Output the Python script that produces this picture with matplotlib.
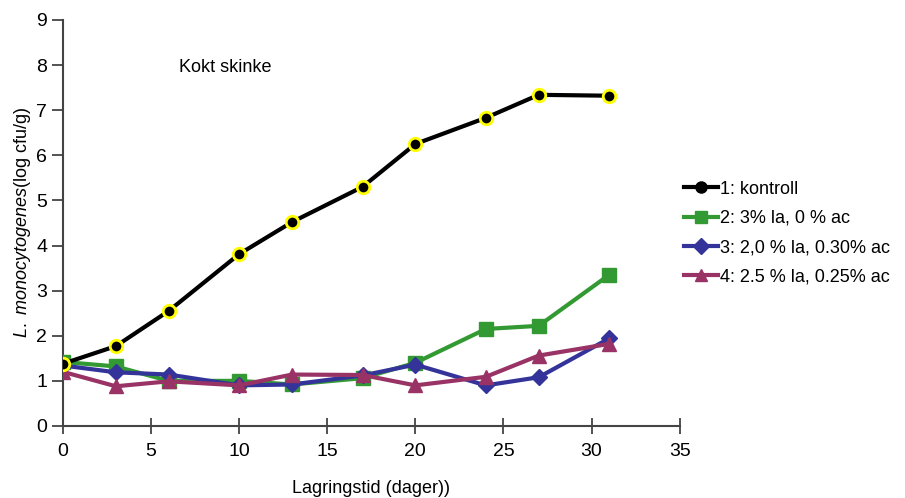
import matplotlib
matplotlib.use("Agg")
import matplotlib.pyplot as plt
from matplotlib.lines import Line2D

plt.rcParams['font.family'] = ['Liberation Sans', 'DejaVu Sans']
plt.rcParams['mathtext.fontset'] = 'custom'
plt.rcParams['mathtext.it'] = 'Liberation Sans:italic'
plt.rcParams['mathtext.rm'] = 'Liberation Sans'

days = [0, 3, 6, 10, 13, 17, 20, 24, 27, 31]
kontroll = [1.38, 1.77, 2.55, 3.81, 4.52, 5.30, 6.25, 6.83, 7.34, 7.32]
la3_ac0 = [1.42, 1.32, 1.00, 1.00, 0.92, 1.06, 1.40, 2.15, 2.22, 3.35]
la20_ac030 = [1.34, 1.19, 1.14, 0.90, 0.92, 1.12, 1.36, 0.90, 1.08, 1.94]
la25_ac025 = [1.20, 0.88, 0.99, 0.90, 1.14, 1.13, 0.90, 1.09, 1.56, 1.82]

labels = ["1: kontroll", "2: 3% la, 0 % ac", "3: 2,0 % la, 0.30% ac",
          "4: 2.5 % la, 0.25% ac"]
colors = ['black', '#339933', '#333399', '#993366']
markers = ['o', 's', 'D', '^']

fig = plt.figure(figsize=(9.05, 4.98), dpi=100)
ax = fig.add_axes([0.0696, 0.1446, 0.6814, 0.8154])

ax.plot(days, la3_ac0, color=colors[1], lw=3, marker='s', ms=10,
        mec=colors[1], zorder=3)
ax.plot(days, la20_ac030, color=colors[2], lw=3, marker='D', ms=8,
        mec=colors[2], zorder=4)
ax.plot(days, la25_ac025, color=colors[3], lw=3, marker='^', ms=10,
        mec=colors[3], zorder=5)
ax.plot(days, kontroll, color='black', lw=3, marker='o', ms=9,
        mfc='black', mec='#ffff00', mew=2, zorder=6)

ax.set_xlim(0, 35)
ax.set_ylim(0, 9)
ax.set_xticks(range(0, 36, 5))
ax.set_yticks(range(0, 10))
for s in ['top', 'right']:
    ax.spines[s].set_visible(False)
for s in ['left', 'bottom']:
    ax.spines[s].set_color('#444444')
    ax.spines[s].set_linewidth(1.5)
ax.tick_params(axis='x', direction='inout', length=12, width=1.3,
               color='#444444', labelsize=14, pad=6)
ax.tick_params(axis='y', direction='out', length=8, width=1.3,
               color='#444444', labelsize=14)

ax.set_xlabel("Lagringstid (dager))", fontsize=13, labelpad=15)
ax.set_ylabel(r"$\it{L.\ monocytogenes}$(log cfu/g)", fontsize=13, labelpad=2)

ax.text(6.6, 7.85, "Kokt skinke", fontsize=13)

# legend handles: plain markers, no yellow edge
handles = [Line2D([], [], color=c, lw=3, marker=m, ms=8, mec=c)
           for c, m in zip(colors, markers)]
ax.legend(handles, labels,
          loc='center left', bbox_to_anchor=(0.98, 0.475), frameon=False,
          fontsize=13, handlelength=1.9, handletextpad=0.1,
          labelspacing=0.68)

fig.savefig("out.png", dpi=100)
